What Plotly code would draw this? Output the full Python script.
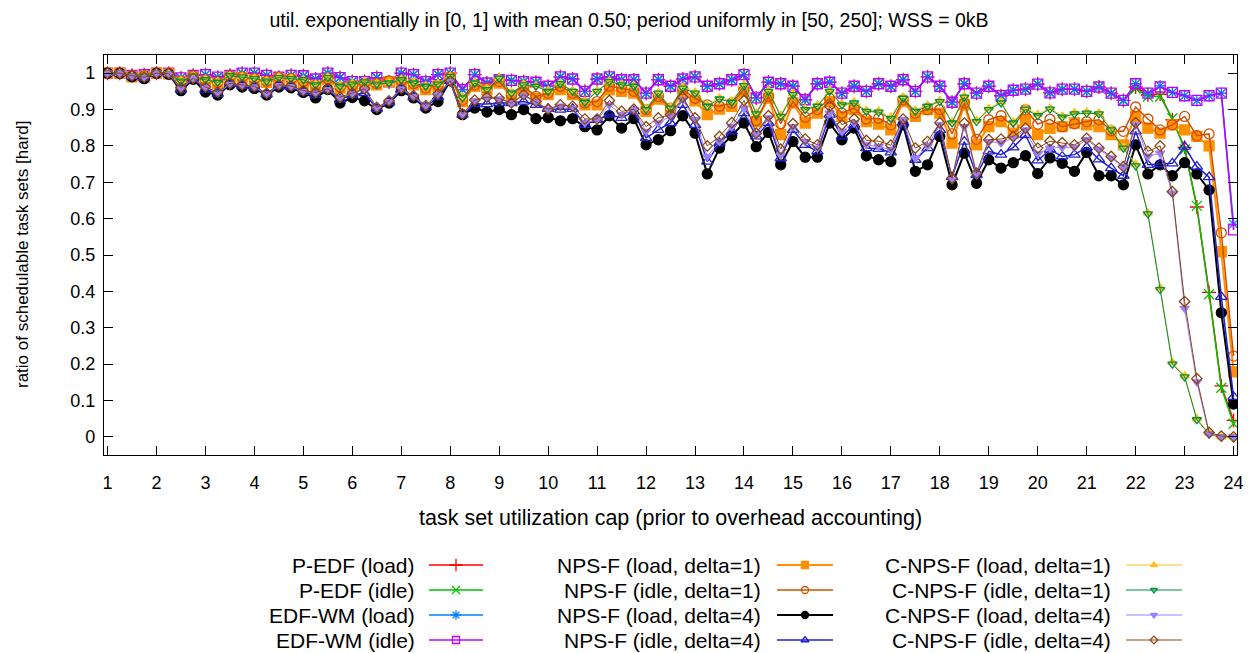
import plotly.graph_objects as go

# ---------------- data ----------------
caps = [1 + 0.25 * i for i in range(93)]          # task set utilization cap
x_ticks = list(range(1, 25))
y_ticks = [round(0.1 * i, 1) for i in range(11)]

pedf_load = [
    1.0, 1.0, 0.994, 0.996,
    1.0, 1.0, 0.987, 0.994,
    0.996, 0.989, 0.994, 1.0,
    1.0, 0.994, 0.989, 0.994,
    0.993, 0.984, 1.0, 0.988,
    0.977, 0.977, 0.988, 0.976,
    1.0, 0.996, 0.977, 0.996,
    1.0, 0.955, 0.996, 0.973,
    0.982, 0.98, 0.977, 0.975,
    0.964, 0.99, 0.984, 0.95,
    0.984, 0.99, 0.982, 0.982,
    0.945, 0.982, 0.964, 0.984,
    0.99, 0.964, 0.971, 0.982,
    0.996, 0.932, 0.975, 0.971,
    0.964, 0.927, 0.971, 0.975,
    0.945, 0.964, 0.95, 0.971,
    0.964, 0.982, 0.95, 0.99,
    0.964, 0.92, 0.971, 0.945,
    0.964, 0.938, 0.953, 0.956,
    0.97, 0.946, 0.956, 0.956,
    0.95, 0.962, 0.945, 0.925,
    0.962, 0.94, 0.942, 0.872,
    0.796, 0.632, 0.397, 0.14,
    0.045]

pedf_idle = [
    1.0, 1.0, 0.994, 0.996,
    1.0, 1.0, 0.987, 0.994,
    0.996, 0.989, 0.994, 1.0,
    1.0, 0.994, 0.989, 0.994,
    0.993, 0.984, 1.0, 0.988,
    0.977, 0.977, 0.988, 0.976,
    1.0, 0.996, 0.977, 0.996,
    1.0, 0.955, 0.996, 0.973,
    0.982, 0.98, 0.977, 0.975,
    0.964, 0.99, 0.984, 0.95,
    0.984, 0.99, 0.982, 0.982,
    0.945, 0.982, 0.964, 0.984,
    0.99, 0.964, 0.971, 0.982,
    0.996, 0.932, 0.975, 0.971,
    0.964, 0.927, 0.971, 0.975,
    0.945, 0.964, 0.95, 0.971,
    0.964, 0.982, 0.95, 0.99,
    0.964, 0.92, 0.971, 0.945,
    0.964, 0.938, 0.953, 0.956,
    0.97, 0.946, 0.956, 0.956,
    0.95, 0.962, 0.945, 0.925,
    0.958, 0.936, 0.936, 0.876,
    0.79, 0.635, 0.392, 0.135,
    0.036]

edfwm_load = [
    1.0, 1.0, 0.994, 0.996,
    1.0, 1.0, 0.987, 0.994,
    0.996, 0.989, 0.994, 1.0,
    1.0, 0.994, 0.989, 0.994,
    0.993, 0.984, 1.0, 0.988,
    0.977, 0.977, 0.988, 0.976,
    1.0, 0.996, 0.977, 0.996,
    1.0, 0.955, 0.996, 0.973,
    0.982, 0.98, 0.977, 0.975,
    0.964, 0.99, 0.984, 0.95,
    0.984, 0.99, 0.982, 0.982,
    0.945, 0.982, 0.964, 0.984,
    0.99, 0.964, 0.971, 0.982,
    0.996, 0.932, 0.975, 0.971,
    0.964, 0.927, 0.971, 0.975,
    0.945, 0.964, 0.95, 0.971,
    0.964, 0.982, 0.95, 0.99,
    0.964, 0.92, 0.971, 0.945,
    0.964, 0.938, 0.953, 0.956,
    0.97, 0.946, 0.956, 0.956,
    0.95, 0.962, 0.945, 0.925,
    0.971, 0.945, 0.965, 0.947,
    0.938, 0.925, 0.938, 0.945,
    0.585]

edfwm_idle = [
    1.0, 1.0, 0.994, 0.996,
    1.0, 1.0, 0.987, 0.994,
    0.996, 0.989, 0.994, 1.0,
    1.0, 0.994, 0.989, 0.994,
    0.993, 0.984, 1.0, 0.988,
    0.977, 0.977, 0.988, 0.976,
    1.0, 0.996, 0.977, 0.996,
    1.0, 0.955, 0.996, 0.973,
    0.982, 0.98, 0.977, 0.975,
    0.964, 0.99, 0.984, 0.95,
    0.984, 0.99, 0.982, 0.982,
    0.945, 0.982, 0.964, 0.984,
    0.99, 0.964, 0.971, 0.982,
    0.996, 0.932, 0.975, 0.971,
    0.964, 0.927, 0.971, 0.975,
    0.945, 0.964, 0.95, 0.971,
    0.964, 0.982, 0.95, 0.99,
    0.964, 0.92, 0.971, 0.945,
    0.964, 0.938, 0.953, 0.956,
    0.97, 0.946, 0.956, 0.956,
    0.95, 0.962, 0.945, 0.925,
    0.971, 0.945, 0.962, 0.947,
    0.938, 0.925, 0.938, 0.945,
    0.569]

npsf_load_d1 = [
    1.0, 1.0, 0.99, 0.99,
    1.0, 0.998, 0.975, 0.99,
    0.978, 0.972, 0.99, 0.988,
    0.982, 0.975, 0.985, 0.982,
    0.973, 0.964, 0.982, 0.959,
    0.964, 0.968, 0.968, 0.977,
    0.977, 0.968, 0.955, 0.964,
    0.987, 0.922, 0.964, 0.955,
    0.973, 0.936, 0.955, 0.931,
    0.941, 0.955, 0.941, 0.913,
    0.913, 0.955, 0.95, 0.945,
    0.895, 0.929, 0.9, 0.945,
    0.924, 0.886, 0.901, 0.909,
    0.95, 0.867, 0.931, 0.831,
    0.918, 0.863, 0.89, 0.922,
    0.881, 0.9, 0.867, 0.86,
    0.844, 0.922, 0.881, 0.9,
    0.89, 0.808, 0.913, 0.803,
    0.853, 0.867, 0.835, 0.872,
    0.831, 0.848, 0.853, 0.863,
    0.858, 0.853, 0.831, 0.803,
    0.881, 0.849, 0.835, 0.858,
    0.844, 0.826, 0.8, 0.509,
    0.179]

npsf_idle_d1 = [
    1.0, 1.0, 0.993, 0.993,
    1.0, 1.0, 0.978, 0.992,
    0.981, 0.975, 0.992, 0.99,
    0.985, 0.978, 0.988, 0.985,
    0.977, 0.967, 0.985, 0.962,
    0.967, 0.972, 0.971, 0.979,
    0.979, 0.971, 0.959, 0.967,
    0.989, 0.926, 0.968, 0.958,
    0.977, 0.941, 0.964, 0.936,
    0.945, 0.964, 0.945, 0.918,
    0.922, 0.964, 0.959, 0.95,
    0.9, 0.936, 0.904, 0.955,
    0.931, 0.913, 0.909, 0.918,
    0.956, 0.87, 0.936, 0.861,
    0.922, 0.879, 0.9, 0.931,
    0.89, 0.904, 0.874, 0.876,
    0.858, 0.927, 0.89, 0.9,
    0.9, 0.833, 0.918, 0.818,
    0.872, 0.883, 0.853, 0.9,
    0.86, 0.873, 0.853, 0.861,
    0.867, 0.872, 0.842, 0.84,
    0.907, 0.874, 0.844, 0.858,
    0.881, 0.828, 0.833, 0.561,
    0.222]

npsf_load_d4 = [
    1.0, 1.0, 0.99, 0.985,
    1.0, 0.997, 0.952, 0.983,
    0.948, 0.94, 0.968, 0.962,
    0.958, 0.94, 0.962, 0.96,
    0.947, 0.932, 0.955, 0.918,
    0.933, 0.924, 0.9, 0.918,
    0.952, 0.932, 0.904, 0.922,
    0.979, 0.886, 0.904, 0.893,
    0.9, 0.886, 0.9, 0.875,
    0.878, 0.869, 0.875, 0.853,
    0.844, 0.883, 0.849, 0.875,
    0.803, 0.817, 0.842, 0.883,
    0.835, 0.723, 0.794, 0.828,
    0.863, 0.798, 0.837, 0.748,
    0.812, 0.769, 0.769, 0.863,
    0.817, 0.849, 0.773, 0.762,
    0.757, 0.858, 0.73, 0.748,
    0.826, 0.693, 0.78, 0.697,
    0.762, 0.739, 0.754, 0.773,
    0.724, 0.767, 0.752, 0.73,
    0.782, 0.718, 0.718, 0.693,
    0.803, 0.723, 0.748, 0.718,
    0.754, 0.723, 0.679, 0.341,
    0.09]

npsf_idle_d4 = [
    1.0, 1.0, 0.991, 0.987,
    1.0, 0.998, 0.955, 0.985,
    0.955, 0.943, 0.97, 0.965,
    0.96, 0.942, 0.964, 0.962,
    0.948, 0.94, 0.955, 0.928,
    0.94, 0.945, 0.902, 0.92,
    0.955, 0.934, 0.906, 0.935,
    0.978, 0.886, 0.915, 0.915,
    0.918, 0.918, 0.922, 0.913,
    0.902, 0.9, 0.902, 0.858,
    0.872, 0.886, 0.877, 0.895,
    0.822, 0.844, 0.863, 0.913,
    0.858, 0.757, 0.808, 0.84,
    0.89, 0.826, 0.863, 0.766,
    0.844, 0.803, 0.785, 0.886,
    0.826, 0.858, 0.794, 0.792,
    0.782, 0.863, 0.762, 0.794,
    0.844, 0.714, 0.812, 0.72,
    0.785, 0.776, 0.796, 0.83,
    0.76, 0.79, 0.771, 0.776,
    0.796, 0.763, 0.739, 0.718,
    0.84, 0.748, 0.75, 0.752,
    0.798, 0.743, 0.714, 0.385,
    0.11]

cnpsf_load_d1 = [
    1.0, 1.0, 0.993, 0.993,
    1.0, 0.999, 0.98, 0.993,
    0.983, 0.976, 0.993, 0.991,
    0.986, 0.979, 0.989, 0.986,
    0.983, 0.97, 0.989, 0.966,
    0.972, 0.977, 0.972, 0.975,
    0.983, 0.975, 0.966, 0.972,
    0.992, 0.934, 0.975, 0.957,
    0.987, 0.947, 0.97, 0.966,
    0.953, 0.973, 0.952, 0.923,
    0.952, 0.979, 0.97, 0.966,
    0.903, 0.947, 0.907, 0.962,
    0.948, 0.912, 0.932, 0.924,
    0.969, 0.891, 0.953, 0.885,
    0.944, 0.903, 0.912, 0.953,
    0.916, 0.921, 0.898, 0.896,
    0.879, 0.934, 0.898, 0.912,
    0.925, 0.866, 0.937, 0.87,
    0.903, 0.921, 0.866, 0.904,
    0.887, 0.904, 0.882, 0.892,
    0.894, 0.891, 0.847, 0.797,
    0.75, 0.616, 0.41, 0.205,
    0.168, 0.05, 0.01, 0.0,
    0.0]

cnpsf_idle_d1 = [
    1.0, 1.0, 0.993, 0.992,
    1.0, 0.999, 0.978, 0.992,
    0.982, 0.975, 0.993, 0.99,
    0.985, 0.978, 0.988, 0.985,
    0.982, 0.968, 0.988, 0.964,
    0.97, 0.976, 0.97, 0.973,
    0.982, 0.973, 0.964, 0.97,
    0.991, 0.932, 0.973, 0.955,
    0.986, 0.945, 0.968, 0.964,
    0.95, 0.971, 0.95, 0.92,
    0.95, 0.977, 0.968, 0.964,
    0.9, 0.945, 0.904, 0.959,
    0.945, 0.909, 0.929, 0.92,
    0.966, 0.888, 0.95, 0.881,
    0.941, 0.9, 0.909, 0.95,
    0.913, 0.918, 0.895, 0.893,
    0.875, 0.931, 0.895, 0.909,
    0.922, 0.863, 0.934, 0.867,
    0.9, 0.918, 0.863, 0.901,
    0.883, 0.901, 0.879, 0.888,
    0.89, 0.888, 0.844, 0.794,
    0.745, 0.613, 0.405, 0.2,
    0.165, 0.047, 0.007, 0.0,
    0.0]

cnpsf_load_d4 = [
    1.0, 1.0, 0.992, 0.988,
    1.0, 0.998, 0.957, 0.985,
    0.96, 0.945, 0.97, 0.966,
    0.962, 0.943, 0.966, 0.963,
    0.95, 0.945, 0.955, 0.932,
    0.943, 0.955, 0.904, 0.922,
    0.957, 0.936, 0.909, 0.941,
    0.977, 0.886, 0.924, 0.932,
    0.929, 0.918, 0.938, 0.92,
    0.901, 0.909, 0.904, 0.863,
    0.872, 0.913, 0.886, 0.9,
    0.84, 0.863, 0.881, 0.927,
    0.872, 0.771, 0.812, 0.853,
    0.904, 0.83, 0.877, 0.775,
    0.853, 0.812, 0.794, 0.89,
    0.84, 0.863, 0.803, 0.798,
    0.79, 0.872, 0.766, 0.8,
    0.858, 0.707, 0.853, 0.72,
    0.812, 0.808, 0.821, 0.844,
    0.778, 0.794, 0.796, 0.796,
    0.817, 0.791, 0.766, 0.743,
    0.858, 0.771, 0.78, 0.67,
    0.353, 0.151, 0.007, 0.0,
    0.0]

cnpsf_idle_d4 = [
    1.0, 1.0, 0.993, 0.989,
    1.0, 0.999, 0.96, 0.986,
    0.962, 0.948, 0.972, 0.968,
    0.964, 0.945, 0.968, 0.965,
    0.952, 0.947, 0.957, 0.934,
    0.945, 0.957, 0.906, 0.924,
    0.959, 0.938, 0.911, 0.943,
    0.979, 0.888, 0.926, 0.934,
    0.931, 0.918, 0.941, 0.922,
    0.901, 0.913, 0.909, 0.874,
    0.874, 0.925, 0.895, 0.901,
    0.853, 0.877, 0.886, 0.934,
    0.877, 0.8, 0.826, 0.864,
    0.925, 0.835, 0.883, 0.791,
    0.861, 0.819, 0.803, 0.909,
    0.858, 0.874, 0.815, 0.813,
    0.802, 0.874, 0.794, 0.812,
    0.864, 0.711, 0.863, 0.725,
    0.817, 0.819, 0.826, 0.849,
    0.794, 0.813, 0.809, 0.803,
    0.821, 0.794, 0.771, 0.743,
    0.864, 0.785, 0.8, 0.674,
    0.372, 0.16, 0.012, 0.002,
    0.0]

names = [
    "P-EDF (load)", "P-EDF (idle)", "EDF-WM (load)", "EDF-WM (idle)",
    "NPS-F (load, delta=1)", "NPS-F (idle, delta=1)", "NPS-F (load, delta=4)", "NPS-F (idle, delta=4)",
    "C-NPS-F (load, delta=1)", "C-NPS-F (idle, delta=1)", "C-NPS-F (load, delta=4)", "C-NPS-F (idle, delta=4)",
]
series = [
    pedf_load, pedf_idle, edfwm_load, edfwm_idle,
    npsf_load_d1, npsf_idle_d1, npsf_load_d4, npsf_idle_d4,
    cnpsf_load_d1, cnpsf_idle_d1, cnpsf_load_d4, cnpsf_idle_d4,
]

# ---------------- styles ----------------
colors = ["#ff0000", "#00c000", "#0080ff", "#c000ff",
          "#ff9000", "#d05000", "#000000", "#2020d0",
          "#ffc020", "#009040", "#9a80ff", "#8b4513"]
symbols = ["cross-thin-open", "x-thin-open", "asterisk-open", "square-open",
           "square", "circle-open", "circle", "triangle-up-open",
           "triangle-up", "triangle-down-open", "triangle-down", "diamond-open"]
msizes = [10, 10, 10, 10, 10, 10, 10, 10, 8, 8, 8, 8]
lsizes = [9, 8, 8, 7, 7, 7, 7, 7, 6, 6, 6, 6]
lwidths = [1.5, 1.5, 1.5, 1.5, 2.0, 1.5, 2.0, 1.5, 1.0, 1.0, 1.0, 1.0]

FONT = "Liberation Sans, Arial, Helvetica, sans-serif"

fig = go.Figure()
for name, vals, c, s, ms, lw in zip(names, series, colors, symbols, msizes, lwidths):
    fig.add_trace(go.Scatter(
        x=caps, y=vals, mode="lines+markers", name=name, showlegend=False,
        line=dict(color=c, width=lw),
        marker=dict(symbol=s, size=ms, color=c, line=dict(color=c, width=1.3)),
        xaxis="x", yaxis="y"))

# ---------------- legend (gnuplot style: text left, sample right) ----------------
W, H = 1258, 653
L, R, T = 104, 21, 55
PLOT_BOTTOM = 455
col_text_right = [417, 763, 1113]
col_sample = [(429, 483), (777, 833), (1126, 1182)]
row_y = [565, 590, 615, 640]

annotations = []
for i, (name, c, s, ls, lw) in enumerate(zip(names, colors, symbols, lsizes, lwidths)):
    col, row = divmod(i, 4)
    x0, x1 = col_sample[col]
    yy = row_y[row]
    fig.add_trace(go.Scatter(x=[x0, x1], y=[yy, yy], mode="lines", showlegend=False,
                             hoverinfo="skip", line=dict(color=c, width=lw),
                             xaxis="x2", yaxis="y2"))
    fig.add_trace(go.Scatter(x=[(x0 + x1) / 2], y=[yy], mode="markers", showlegend=False,
                             hoverinfo="skip",
                             marker=dict(symbol=s, size=ls, color=c, line=dict(color=c, width=1.3)),
                             xaxis="x2", yaxis="y2"))
    annotations.append(dict(x=col_text_right[col], y=yy, xref="x2", yref="y2",
                            text=name, showarrow=False, xanchor="right", yanchor="middle",
                            font=dict(family=FONT, size=21, color="black")))

paper_h = H - T
ydom0 = (H - PLOT_BOTTOM) / paper_h

annotations.append(dict(text="task set utilization cap (prior to overhead accounting)",
                        xref="paper", yref="paper", x=0.5, y=(H - 518) / paper_h,
                        xanchor="center", yanchor="middle", showarrow=False,
                        font=dict(family=FONT, size=21.5, color="black")))
annotations.append(dict(text="ratio of schedulable task sets [hard]",
                        xref="paper", yref="paper", x=(22 - L) / (W - L - R),
                        y=(H - 255) / paper_h, textangle=-90,
                        xanchor="center", yanchor="middle", showarrow=False,
                        font=dict(family=FONT, size=17, color="black")))

axis_common = dict(ticks="inside", ticklen=9, tickcolor="black", tickwidth=1,
                   showline=True, linecolor="black", linewidth=1.2, mirror="ticks",
                   showgrid=False, zeroline=False,
                   tickfont=dict(family=FONT, size=18, color="black"))

fig.update_layout(
    width=W, height=H,
    margin=dict(l=L, r=R, t=T, b=0, pad=0),
    paper_bgcolor="white", plot_bgcolor="white",
    title=dict(text="util. exponentially in [0, 1] with mean 0.50; period uniformly in [50, 250]; WSS = 0kB",
               x=0.5, xref="container", xanchor="center",
               y=1 - 20 / H, yref="container", yanchor="middle",
               font=dict(family=FONT, size=19.5, color="black")),
    xaxis=dict(range=[0.928, 24.07], tickvals=x_ticks, ticktext=[str(v) for v in x_ticks],
               anchor="y", domain=[0, 1], ticklabelstandoff=11, **axis_common),
    yaxis=dict(range=[-0.05, 1.05], tickvals=y_ticks, ticktext=[f"{v:g}" for v in y_ticks],
               anchor="x", domain=[ydom0, 1], ticklabelstandoff=4, **axis_common),
    xaxis2=dict(range=[L, W - R], domain=[0, 1], anchor="y2", visible=False, fixedrange=True),
    yaxis2=dict(range=[H, PLOT_BOTTOM], domain=[0, ydom0], anchor="x2", visible=False, fixedrange=True),
    annotations=annotations,
    showlegend=False,
    hovermode="closest",
)

fig.write_html("out.html", config={"displayModeBar": False},
               post_script="document.body.style.margin='0';document.body.style.overflow='hidden';")
